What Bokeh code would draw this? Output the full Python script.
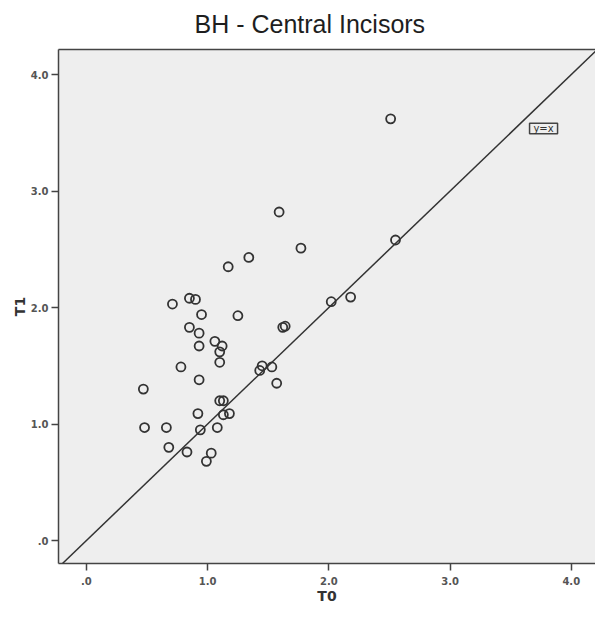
from bokeh.plotting import figure
from bokeh.models import Slope, Label, LinearAxis, FixedTicker, BoxAnnotation
from bokeh.embed import file_html
from bokeh.resources import INLINE

title_text = "BH - Central Incisors"
x_label = "T0"
y_label = "T1"
tick_values = [0, 1, 2, 3, 4]
tick_labels = [".0", "1.0", "2.0", "3.0", "4.0"]
ref_label = "y=x"

t0 = [2.51, 2.55, 1.59, 1.77, 1.34, 1.17, 2.02, 2.18, 0.85, 0.90, 0.71, 0.95,
      1.25, 0.85, 0.93, 0.93, 1.06, 1.12, 1.10, 1.10, 0.78, 0.93, 0.47, 1.62,
      1.64, 1.45, 1.43, 1.53, 1.57, 1.10, 1.13, 0.92, 1.13, 1.18, 0.48, 0.66,
      0.94, 1.08, 0.68, 0.83, 1.03, 0.99]
t1 = [3.62, 2.58, 2.82, 2.51, 2.43, 2.35, 2.05, 2.09, 2.08, 2.07, 2.03, 1.94,
      1.93, 1.83, 1.78, 1.67, 1.71, 1.67, 1.62, 1.53, 1.49, 1.38, 1.30, 1.83,
      1.84, 1.50, 1.46, 1.49, 1.35, 1.20, 1.20, 1.09, 1.08, 1.09, 0.97, 0.97,
      0.95, 0.97, 0.80, 0.76, 0.75, 0.68]

p = figure(frame_width=537, frame_height=514,
           x_range=(-0.23, 4.20), y_range=(-0.197, 4.215),
           output_backend="svg", toolbar_location=None,
           min_border_left=58, min_border_right=0,
           min_border_top=49, min_border_bottom=54,
           background_fill_color="#eeeeee", border_fill_color="white")
p.outline_line_color = None
p.grid.visible = False

p.title.text = title_text
p.title.align = "left"
p.title.vertical_align = "top"
p.title.offset = 136
p.title.standoff = 19
p.title.text_font = "Liberation Sans"
p.title.text_font_style = "normal"
p.title.text_font_size = "25px"
p.title.text_color = "#1e1e1e"

overrides = {v: s for v, s in zip(tick_values, tick_labels)}
for ax in (p.xaxis[0], p.yaxis[0]):
    ax.ticker = FixedTicker(ticks=tick_values)
    ax.major_label_overrides = overrides
    ax.minor_tick_line_color = None
    ax.major_tick_in = 0
    ax.major_tick_out = 7
    ax.major_tick_line_color = "#444444"
    ax.major_tick_line_width = 1.5
    ax.axis_line_color = "#444444"
    ax.axis_line_width = 1.5
    ax.major_label_text_font = "DejaVu Sans"
    ax.major_label_text_font_style = "bold"
    ax.major_label_text_font_size = "10px"
    ax.major_label_text_color = "#555555"
    ax.axis_label_text_font = "DejaVu Sans"
    ax.axis_label_text_font_style = "bold"
    ax.axis_label_text_font_size = "14px"
    ax.axis_label_text_color = "#333333"

p.xaxis[0].axis_label = x_label
p.yaxis[0].axis_label = y_label
p.xaxis[0].major_label_standoff = 6
p.xaxis[0].axis_label_standoff = 0
p.yaxis[0].major_label_standoff = 3
p.yaxis[0].axis_label_standoff = 0

top = LinearAxis(ticker=FixedTicker(ticks=[]), axis_line_color="#444444",
                 axis_line_width=1.5, major_tick_line_color=None,
                 major_tick_out=0, major_tick_in=0, major_label_standoff=0,
                 minor_tick_line_color=None, major_label_text_font_size="0px")
p.add_layout(top, "above")

p.add_layout(Slope(gradient=1, y_intercept=0, line_color="#333333", line_width=1.5))

p.scatter(t0, t1, size=9, marker="circle", fill_color=None,
          line_color="#333333", line_width=1.8)

p.add_layout(BoxAnnotation(left=3.656, right=3.887, bottom=3.491, top=3.582,
                           fill_color="#eeeeee", fill_alpha=1.0,
                           line_color="#444444", line_width=1.5, line_alpha=1.0))
p.add_layout(Label(x=3.771, y=3.536, text=ref_label, text_align="center",
                   text_baseline="middle", text_font="DejaVu Sans",
                   text_font_size="10px", text_color="#333333"))

open("out.html", "w").write(file_html(p, INLINE))
